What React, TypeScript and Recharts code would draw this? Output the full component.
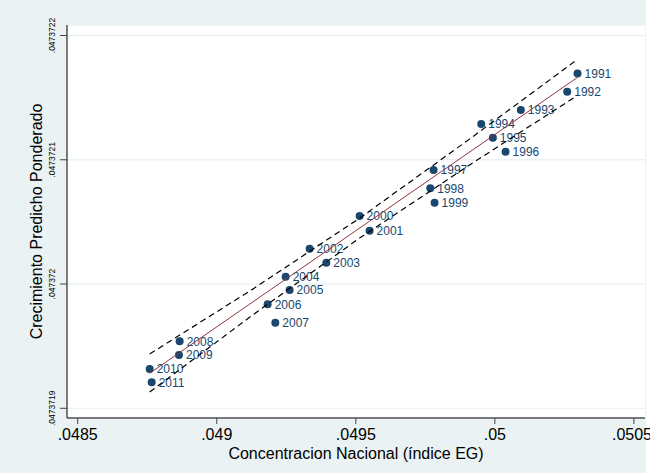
import React from 'react';
import { ScatterChart, Scatter, XAxis, YAxis, CartesianGrid } from 'recharts';

const years = ['1991','1992','1993','1994','1995','1996','1997','1998','1999','2000','2001','2002','2003','2004','2005','2006','2007','2008','2009','2010','2011'];
const concentracion = [0.0502973,0.0502602,0.0500934,0.0499511,0.0499928,0.0500385,0.0497797,0.0497678,0.0497832,0.0495137,0.0495496,0.0493339,0.049394,0.0492477,0.049262,0.049183,0.0492106,0.0488666,0.0488641,0.0487588,0.048766];
const crecimiento = [0.0473721695,0.0473721547,0.04737214,0.0473721287,0.0473721177,0.0473721064,0.0473720917,0.047372077,0.0473720654,0.0473720547,0.0473720429,0.0473720284,0.0473720171,0.0473720059,0.0473719952,0.0473719837,0.0473719689,0.0473719539,0.0473719429,0.0473719316,0.0473719209];

const fitX = [0.0487588, 0.0502973];
const fitY = [0.0473719282, 0.0473721663];
const ciX = [0.0487588, 0.049128, 0.0495137, 0.049905, 0.0502973];
const ciUpper = [0.0473719437, 0.0473719957, 0.047372053, 0.047372116, 0.0473721808];
const ciLower = [0.0473719131, 0.0473719749, 0.047372037, 0.0473720952, 0.0473721518];

const xTicks = [0.0485, 0.049, 0.0495, 0.05, 0.0505];
const yTicks = [0.0473719, 0.047372, 0.0473721, 0.0473722];
const xDomain = [0.0484615, 0.0505399];
const yDomain = [0.0473718922, 0.04737220845];

const NAVY = '#1a476f';
const MAROON = '#90353b';
const BG = '#eaf2f3';

const fmt = (v: number) => String(v).replace(/^0\./, '.');

const points = years.map((year, i) => ({ x: concentracion[i], y: crecimiento[i], year }));
const fitData = fitX.map((x, i) => ({ x, y: fitY[i] }));
const upperData = ciX.map((x, i) => ({ x, y: ciUpper[i] }));
const lowerData = ciX.map((x, i) => ({ x, y: ciLower[i] }));

const PointShape = (props: any) => {
  const { cx, cy, payload } = props;
  return (
    <g>
      <circle cx={cx} cy={cy} r={4} fill={NAVY} />
      <text x={cx + 7} y={cy} dy="0.36em" fontSize={12} fill={NAVY}>{payload.year}</text>
    </g>
  );
};

const NoShape = () => <g />;

const YTick = (props: any) => {
  const { x, y, payload } = props;
  return (
    <text x={x} y={y} transform={`rotate(-90 ${x} ${y})`} textAnchor="middle" fontSize={8.5} fill="#000">
      {fmt(payload.value)}
    </text>
  );
};

const YTitle = (props: any) => {
  const vb = props.viewBox || { x: 0, y: 25, width: 67, height: 393 };
  const x = vb.x + 42;
  const y = vb.y + vb.height / 2;
  return (
    <text x={x} y={y} transform={`rotate(-90 ${x} ${y})`} textAnchor="middle" fontSize={16} fill="#000">
      Crecimiento Predicho Ponderado
    </text>
  );
};

export default function App() {
  return (
    <div style={{ position: 'absolute', left: 0, top: 0, width: 650, height: 474, background: '#fff', fontFamily: '"Liberation Sans", Arial, sans-serif' }}>
      <div style={{ position: 'absolute', left: 0, top: 0, width: 646, height: 473, background: BG }} />
      <div style={{ position: 'absolute', left: 0, top: 0 }}>
        <ScatterChart width={650} height={474} margin={{ top: 25, right: 5, bottom: 0, left: 0 }}>
          <CartesianGrid horizontal vertical={false} fill="#fff" stroke={BG} strokeWidth={1.3} />
          <XAxis
            type="number"
            dataKey="x"
            domain={xDomain}
            ticks={xTicks}
            allowDataOverflow
            height={56}
            tickSize={6}
            tickMargin={5}
            tickFormatter={fmt}
            tick={{ fontSize: 16, fill: '#000' }}
            axisLine={{ stroke: '#000', strokeWidth: 1 }}
            tickLine={{ stroke: '#444' }}
            label={{ value: 'Concentracion Nacional (índice EG)', position: 'insideBottom', offset: 15, fontSize: 16, fill: '#000' }}
          />
          <YAxis
            type="number"
            dataKey="y"
            domain={yDomain}
            ticks={yTicks}
            allowDataOverflow
            width={67}
            tickSize={7}
            tickMargin={5}
            tick={<YTick />}
            axisLine={{ stroke: '#000', strokeWidth: 1 }}
            tickLine={{ stroke: '#444' }}
            label={{ content: (p: any) => <YTitle {...p} /> }}
          />
          <Scatter data={points} shape={PointShape} isAnimationActive={false} />
          <Scatter data={upperData} line={{ stroke: '#000', strokeWidth: 1.2, strokeDasharray: '6 4' }} shape={NoShape} isAnimationActive={false} />
          <Scatter data={lowerData} line={{ stroke: '#000', strokeWidth: 1.2, strokeDasharray: '6 4' }} shape={NoShape} isAnimationActive={false} />
          <Scatter data={fitData} line={{ stroke: MAROON, strokeWidth: 1 }} shape={NoShape} isAnimationActive={false} />
        </ScatterChart>
      </div>
    </div>
  );
}
